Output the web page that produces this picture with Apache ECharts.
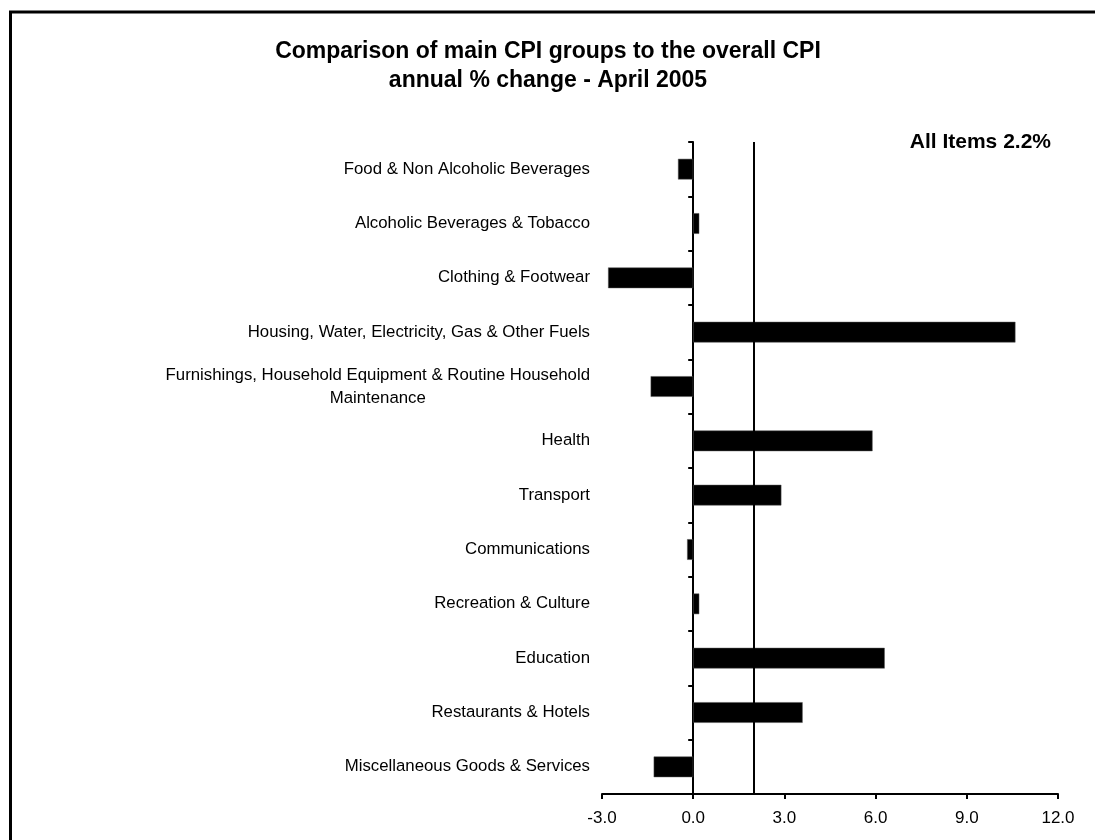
<!DOCTYPE html>
<html>
<head>
<meta charset="utf-8">
<script src="https://cdn.jsdelivr.net/npm/echarts@6/dist/echarts.min.js"></script>
<style>
  html, body { margin: 0; padding: 0; background: #fff; }
  #chart { width: 1095px; height: 840px; }
</style>
</head>
<body>
<div id="chart"></div>
<script>
const titleLines = ['Comparison of main CPI groups to the overall CPI', 'annual % change - April 2005'];
const categories = [
  'Food & Non Alcoholic Beverages',
  'Alcoholic Beverages & Tobacco',
  'Clothing & Footwear',
  'Housing, Water, Electricity, Gas & Other Fuels',
  'Furnishings, Household Equipment & Routine Household\nMaintenance',
  'Health',
  'Transport',
  'Communications',
  'Recreation & Culture',
  'Education',
  'Restaurants & Hotels',
  'Miscellaneous Goods & Services'
];
const changes = [-0.5, 0.2, -2.8, 10.6, -1.4, 5.9, 2.9, -0.2, 0.2, 6.3, 3.6, -1.3];
const allItemsLine = 2.0;
const allItemsLabel = 'All Items 2.2%';
const xTicks = { min: -3, max: 12, interval: 3 };

const FONT = '"Liberation Sans", Arial, Helvetica, sans-serif';
const chart = echarts.init(document.getElementById('chart'), null, { renderer: 'canvas' });

chart.setOption({
  backgroundColor: '#fff',
  animation: false,
  grid: { left: 602, right: 37, top: 142, bottom: 46, outerBoundsMode: 'none', containLabel: false },
  xAxis: {
    type: 'value',
    min: xTicks.min, max: xTicks.max, interval: xTicks.interval,
    splitLine: { show: false },
    axisLine: { show: true, onZero: false, lineStyle: { color: '#000', width: 2 } },
    axisTick: { show: true, length: 5, lineStyle: { color: '#000', width: 2 } },
    axisLabel: { fontFamily: FONT, fontSize: 17, color: '#000', margin: 16, formatter: v => v.toFixed(1) }
  },
  yAxis: [
    {
      type: 'category', data: categories, inverse: true, position: 'left',
      axisLine: { show: false, onZero: false },
      axisTick: { show: false },
      axisLabel: {
        interval: 0, margin: 12, fontFamily: FONT, fontSize: 16.8, color: '#000',
        lineHeight: 23,
        formatter: v => v.split('\n').map(s => '{c|' + s + '}').join('\n'),
        rich: { c: { fontFamily: FONT, fontSize: 16.8, color: '#000', align: 'center', lineHeight: 23 } }
      }
    },
    {
      type: 'category', data: categories, inverse: true, position: 'left',
      axisLine: { show: true, onZero: true, lineStyle: { color: '#000', width: 2 } },
      axisTick: { show: true, length: 5, lineStyle: { color: '#000', width: 2 } },
      axisLabel: { show: false }
    }
  ],
  series: [{
    type: 'bar',
    yAxisIndex: 0,
    data: changes,
    barWidth: '38%',
    itemStyle: { color: '#000', borderColor: '#555', borderWidth: 0.5 },
    markLine: {
      silent: true,
      symbol: 'none',
      label: { show: false },
      lineStyle: { color: '#000', width: 2, type: 'solid' },
      data: [{ xAxis: allItemsLine }]
    }
  }],
  graphic: [
    {
      type: 'rect', silent: true,
      shape: { x: 10.5, y: 12, width: 1200, height: 1000 },
      style: { fill: 'none', stroke: '#000', lineWidth: 3 }
    },
    {
      type: 'text', silent: true, x: 548, y: 52,
      style: { text: titleLines[0], fontFamily: FONT, fontSize: 23, fontWeight: 'bold', fill: '#000', align: 'center', verticalAlign: 'middle' }
    },
    {
      type: 'text', silent: true, x: 548, y: 81,
      style: { text: titleLines[1], fontFamily: FONT, fontSize: 23, fontWeight: 'bold', fill: '#000', align: 'center', verticalAlign: 'middle' }
    },
    {
      type: 'text', silent: true, x: 1051, y: 142,
      style: { text: allItemsLabel, fontFamily: FONT, fontSize: 21, fontWeight: 'bold', fill: '#000', align: 'right', verticalAlign: 'middle' }
    }
  ]
});
</script>
</body>
</html>
